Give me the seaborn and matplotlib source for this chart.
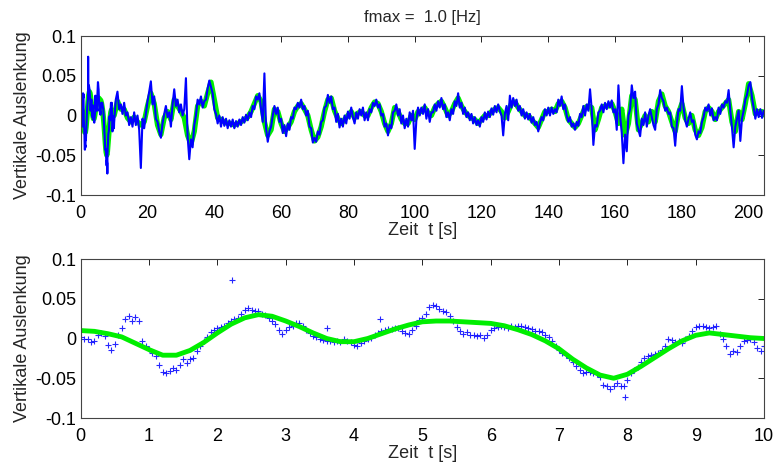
import numpy as np
import pandas as pd
import seaborn as sns
import matplotlib
matplotlib.use("Agg")
import matplotlib.pyplot as plt

# values in 1/1000, converted below
# first 10 s, sampled every 0.05 s (shown as "+" in the lower plot)
fine_blue = [
    2, -1, 0, -5, -3, 5, 7, 3, -8, -14,
    -7, 5, 13, 24, 28, 22, 27, 22, -3, -10,
    -13, -18, -22, -33, -42, -43, -41, -37, -40, -33,
    -26, -31, -26, -24, -16, -10, -3, 2, 8, 11,
    13, 15, 16, 20, 22, 24, 26, 31, 36, 38,
    36, 35, 34, 31, 29, 26, 22, 18, 11, 6,
    11, 15, 16, 19, 20, 16, 11, 7, 3, 2,
    -1, -2, -3, -3, -4, -3, -5, -1, -3, -5,
    -8, -9, -6, -3, -1, 1, 5, 7, 9, 11,
    12, 12, 13, 13, 10, 7, 6, 11, 16, 23,
    26, 31, 39, 42, 41, 37, 35, 33, 28, 22,
    15, 9, 6, 8, 5, 4, 3, 5, 1, 5,
    11, 13, 15, 16, 15, 13, 16, 15, 16, 16,
    15, 13, 12, 10, 9, 8, 5, 2, -3, -9,
    -14, -18, -21, -24, -30, -35, -40, -43, -42, -42,
    -44, -45, -48, -58, -60, -63, -60, -56, -60, -60,
    -52, -43, -39, -36, -30, -24, -22, -21, -20, -18,
    -14, -9, -1, -2, -5, -3, -6, -1, 3, 9,
    15, 16, 16, 15, 13, 15, 16, 6, 0, -10,
    -20, -16, -17, -10, -3, -2, -1, -5, -12, -16,
    -9,
]
fine_t = np.linspace(0, 10, len(fine_blue))

# single outlier samples in the first 10 s
spike_t = [2.22, 3.6, 4.38, 7.97]
spike_v = [74, 13, 25, -73]

# smooth (fmax = 1 Hz) curve for the first 10 s, every 0.2 s
fine_green = [
    10, 9, 6, 2, -6, -14, -21, -21, -15, -5,
    7, 18, 26, 30, 28, 22, 15, 7, 0, -4,
    -4, 0, 6, 12, 17, 21, 22, 22, 21, 20,
    19, 16, 11, 5, -3, -13, -26, -37, -46, -50,
    -45, -35, -24, -13, -3, 4, 7, 5, 3, 1,
    0,
]
fine_green_t = np.linspace(0, 10, len(fine_green))

# rest of the record, 10.5 .. 205 s every 0.5 s
coarse_blue = [
    20, 30, 8, 14, 2, 16, 0, 4, -12, -2,
    -14, 4, -12, 0, -18, -66, -4, -16, 2, 18,
    30, 43, 14, 24, -4, -8, -20, -28, -10, 2,
    12, -2, 4, -14, 14, 33, 12, 20, 4, 14,
    0, 8, 47, -26, -55, -30, -40, -12, 0, 20,
    14, 24, 10, 18, 20, 34, 44, 36, 28, 8,
    2, -10, 0, -14, -2, -13, -4, -16, -6, -14,
    -5, -16, -7, -14, -5, -12, -2, -9, 1, -6,
    4, -2, 12, 8, 24, 20, 28, 8, -8, 53,
    -16, -33, -20, -14, 0, 12, 2, 10, -8, -4,
    -22, -12, -26, -10, -18, -2, -4, 10, 8, 16,
    10, 20, 8, 12, 0, 6, -14, -16, -34, -28,
    -33, -20, -24, -8, -6, 10, 12, 26, 16, 24,
    8, 10, -8, 2, -15, -4, -14, 0, -10, 5,
    -4, 10, -2, -10, 4, -4, 8, 0, 10, -6,
    4, -6, 8, 4, 16, 12, 20, 10, 14, 0,
    2, -14, -10, -25, -12, -16, 4, 6, 14, 0,
    8, -10, 0, -16, -4, -14, 4, -6, 6, -42,
    -6, 10, 0, 10, 2, 14, -4, 8, -8, 4,
    4, 14, 6, 18, 10, 22, 8, 14, -2, 4,
    -6, 8, 2, 18, 12, 28, 10, 16, 2, 10,
    -2, 4, -6, 2, -10, -2, -12, -6, -14, -2,
    -8, 4, -5, 5, -2, 9, 1, 12, 4, 14,
    6, 0, -25, 2, 12, -6, 25, 10, 22, 12,
    20, 6, 12, 0, 8, -4, 4, -5, 2, -9,
    -2, -12, -8, -20, -10, -2, -6, 8, 0, 10,
    0, 10, 2, 8, 4, 20, 12, 24, 8, 14,
    0, -8, -2, -14, -10, -18, -8, -13, 2, -2,
    12, 0, 14, 6, 33, 8, -37, -12, -14, 4,
    6, 14, 4, 16, 8, 18, 10, 19, 4, 8,
    -18, 38, 0, -22, -60, -24, -45, 0, 8, 38,
    22, 30, -10, -18, -26, -4, -12, 4, -14, 0,
    8, -2, -12, -18, 8, 14, 32, 22, 18, 6,
    10, 2, 4, -14, -16, -38, -10, 8, 6, 37,
    10, -6, -14, -4, 4, -8, -6, -24, -30, -20,
    -22, -8, -2, 10, 6, 14, 0, 9, -6, -2,
    -6, 10, 2, 14, 10, 18, 16, 32, 6, -15,
    -40, -14, -4, 6, -32, -4, 6, 20, 26, 38,
    42, 22, 10, -4, 8, -2, 8, -3, 6, 0,
]
coarse_t = 10.5 + 0.5 * np.arange(len(coarse_blue))

# smooth curve 11 .. 205 s, every 1 s
coarse_green = [
    18, 8, 8, -3, -8, -2, -8, -12, -8, 12,
    28, 15, -12, -24, -3, 5, -5, 20, 12, 5,
    -3, -25, -36, -20, 12, 18, 12, 28, 42, 20,
    -3, -5, -8, -10, -10, -12, -10, -8, -5, -2,
    5, 15, 25, 18, -8, -25, -18, 8, 5, -10,
    -20, -15, -8, 5, 12, 15, 8, 0, -18, -32,
    -27, -14, 5, 20, 22, 6, -4, -10, -5, 0,
    5, -3, 3, 5, 0, 0, 10, 17, 15, 5,
    -10, -20, -10, 10, 5, -5, -10, -10, 0, -5,
    5, 5, 10, 3, 0, 10, 15, 18, 10, 0,
    5, 15, 22, 12, 5, 0, -3, -5, -10, -5,
    0, 0, 5, 8, 10, 5, -3, 5, 15, 17,
    10, 5, 0, 0, -5, -10, -15, -5, 5, 5,
    8, 5, 15, 18, 10, -5, -10, -15, -10, 0,
    10, 12, 10, -18, -5, 10, 12, 12, 15, 5,
    -10, 8, -25, -10, 25, 20, -18, -10, 0, -8,
    5, -8, 18, 27, 12, 5, -8, -20, 3, 15,
    -3, -10, 0, -18, -25, -15, 5, 10, 5, -5,
    5, 10, 15, 20, -8, -20, 5, -5, 15, 40,
    25, 2, 5, 5, 0,
]
coarse_green_t = 11 + np.arange(len(coarse_green))

# assemble
fine = pd.DataFrame({"t": np.concatenate([fine_t, spike_t]),
                     "v": np.concatenate([fine_blue, spike_v]) / 1000.0}).sort_values("t")
full = pd.concat([fine, pd.DataFrame({"t": coarse_t, "v": np.array(coarse_blue) / 1000.0})])
green_fine = pd.DataFrame({"t": fine_green_t, "v": np.array(fine_green) / 1000.0})
green_full = pd.concat([green_fine, pd.DataFrame({"t": coarse_green_t,
                                                  "v": np.array(coarse_green) / 1000.0})])

sns.set_theme(style="white")
plt.rcParams['font.family'] = ['Liberation Sans', 'DejaVu Sans']
plt.rcParams['axes.unicode_minus'] = False

fig = plt.figure(figsize=(7.77, 4.66), dpi=100)
ax1 = fig.add_axes([0.1039, 0.5815, 0.8794, 0.3412])
ax2 = fig.add_axes([0.1039, 0.1030, 0.8794, 0.3412])

GREEN = '#00ee00'
BLUE = '#0000ff'

sns.lineplot(data=green_full, x="t", y="v", ax=ax1, color=GREEN, linewidth=3.8,
             estimator=None, sort=False)
sns.lineplot(data=full, x="t", y="v", ax=ax1, color=BLUE, linewidth=1.5,
             estimator=None, sort=False)

sns.lineplot(data=green_fine, x="t", y="v", ax=ax2, color=GREEN, linewidth=3.5,
             estimator=None, sort=False)
sns.scatterplot(data=fine, x="t", y="v", ax=ax2, marker='+', color=BLUE, s=16,
                linewidth=0.8, alpha=0.85)

yticks = [-0.1, -0.05, 0, 0.05, 0.1]
ylabels = ['-0.1', '-0.05', '0', '0.05', '0.1']
for ax, xmax, xt in [(ax1, 204.6, np.arange(0, 201, 20)), (ax2, 10, np.arange(0, 11, 1))]:
    ax.set_xlim(0, xmax)
    ax.set_ylim(-0.1, 0.1)
    ax.set_xticks(xt)
    ax.set_xticklabels([str(int(v)) for v in xt])
    ax.set_yticks(yticks)
    ax.set_yticklabels(ylabels)
    ax.tick_params(direction='in', top=True, right=True, length=4, width=0.7,
                   labelsize=13, colors='#222222', labelcolor='black', pad=3)
    ax.tick_params(axis='x', pad=7)
    for s in ax.spines.values():
        s.set_color('#444444')
        s.set_linewidth(0.8)
    ax.set_ylabel('Vertikale Auslenkung', fontsize=13, labelpad=3)
    ax.set_xlabel('Zeit  t [s]', fontsize=13, labelpad=0)

ax1.set_title('fmax =  1.0 [Hz]', fontsize=12, pad=10)

fig.savefig('out.png', dpi=100)
